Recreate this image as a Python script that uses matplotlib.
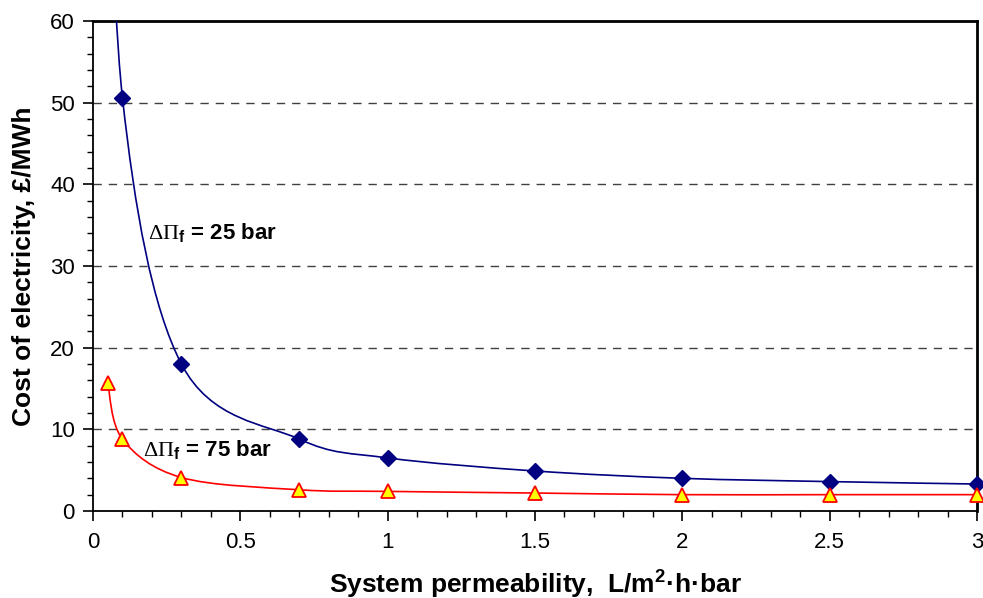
import matplotlib.pyplot as plt
import numpy as np
from matplotlib.path import Path
from matplotlib.patches import PathPatch
from matplotlib.ticker import MultipleLocator

plt.rcParams['font.family'] = ['Liberation Sans', 'DejaVu Sans']
plt.rcParams['mathtext.fontset'] = 'custom'
plt.rcParams['mathtext.rm'] = 'Liberation Serif'
plt.rcParams['mathtext.bf'] = 'Liberation Sans:bold'

# dP = 25 bar (first point lies above the plotted range)
perm_25 = [0.05, 0.1, 0.3, 0.7, 1.0, 1.5, 2.0, 2.5, 3.0]
cost_25 = [100.0, 50.6, 18.0, 8.8, 6.5, 4.9, 4.0, 3.6, 3.3]

# dP = 75 bar
perm_75 = [0.05, 0.1, 0.3, 0.7, 1.0, 1.5, 2.0, 2.5, 3.0]
cost_75 = [15.7, 8.8, 4.1, 2.6, 2.4, 2.2, 2.0, 2.0, 2.0]

y_max = 60


def smooth_path(xs, ys):
    # excel style smoothed line: cubic bezier, tension 1/6
    p = np.column_stack([xs, ys])
    n = len(p)
    verts = [p[0]]
    codes = [Path.MOVETO]
    for i in range(n - 1):
        p0 = p[i - 1] if i > 0 else p[i]
        p3 = p[i + 2] if i + 2 < n else p[i + 1]
        c1 = p[i] + (p[i + 1] - p0) / 6
        c2 = p[i + 1] - (p3 - p[i]) / 6
        verts += [c1, c2, p[i + 1]]
        codes += [Path.CURVE4] * 3
    return Path(verts, codes)


fig = plt.figure(figsize=(9.83, 5.98), dpi=100)
ax = fig.add_axes([0.0946, 0.1455, 0.8993, 0.8194])

ax.add_patch(PathPatch(smooth_path(perm_25, cost_25), fill=False,
                       edgecolor='#000080', lw=1.2, zorder=3))
ax.add_patch(PathPatch(smooth_path(perm_75, cost_75), fill=False,
                       edgecolor='#ff0000', lw=1.2, zorder=3))

# markers are not clipped at the frame, but points above the range are hidden
px = np.array(perm_25)
py = np.array(cost_25)
shown = py <= y_max
ax.plot(px[shown], py[shown], 'D', color='#000080', markersize=8, zorder=4,
        clip_on=False)
ax.plot(perm_75, cost_75, '^', markerfacecolor='#ffff00',
        markeredgecolor='#ff0000', markeredgewidth=1.3, markersize=10,
        zorder=4, clip_on=False)

ax.set_xlim(0, 3)
ax.set_ylim(0, y_max)
ax.xaxis.set_minor_locator(MultipleLocator(0.1))
ax.yaxis.set_major_locator(MultipleLocator(10))
ax.yaxis.set_minor_locator(MultipleLocator(2))
ax.set_xticks([0, 0.5, 1, 1.5, 2, 2.5, 3])
ax.set_xticklabels(['0', '0.5', '1', '1.5', '2', '2.5', '3'])

for y in range(10, 60, 10):
    ax.axhline(y, color='#404040', lw=1, dashes=(6, 5), zorder=1)

ax.tick_params(axis='both', which='major', direction='out', length=7,
               width=1.2, labelsize=16)
ax.tick_params(axis='both', which='minor', direction='out', length=4, width=1)
ax.tick_params(axis='x', which='major', pad=8)
ax.tick_params(axis='y', which='major', pad=6)
for side in ['left', 'bottom']:
    ax.spines[side].set_linewidth(1.3)
for side in ['top', 'right']:
    ax.spines[side].set_linewidth(2)

ax.set_xlabel('System permeability,  L/m$^{\\mathbf{2}}$·h·bar',
              fontsize=19, fontweight='bold', labelpad=10)
ax.set_ylabel('Cost of electricity, £/MWh', fontsize=19, fontweight='bold',
              labelpad=10)

ax.text(0.187, 34.0, '$\\Delta\\Pi_\\mathbf{f}$ = 25 bar', fontsize=16,
        fontweight='bold', va='center', ha='left')
ax.text(0.17, 7.5, '$\\Delta\\Pi_\\mathbf{f}$ = 75 bar', fontsize=16,
        fontweight='bold', va='center', ha='left')

fig.savefig('out.png', dpi=100)
